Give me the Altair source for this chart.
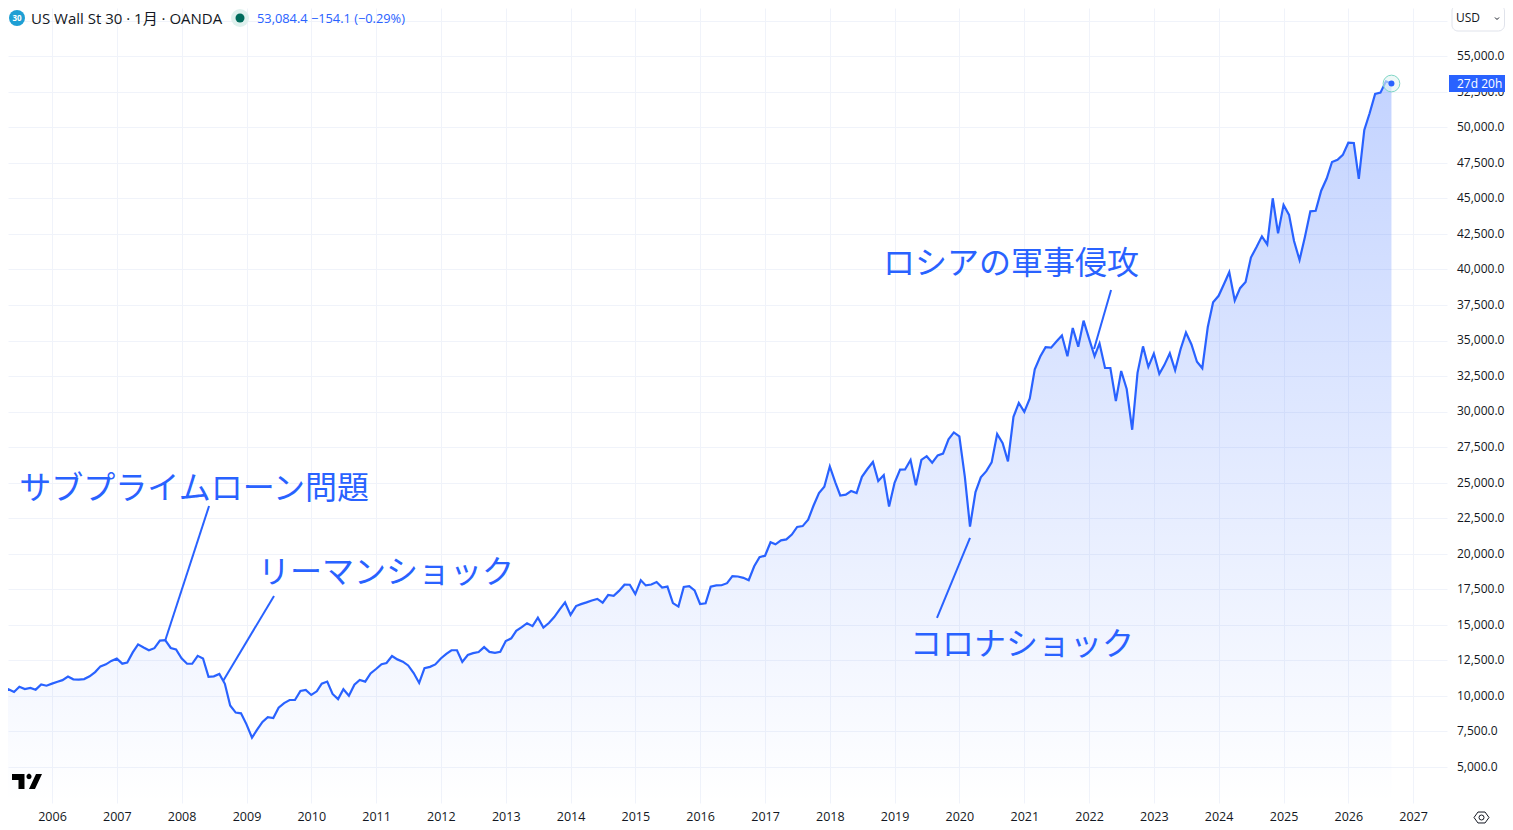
import altair as alt
import pandas as pd

# monthly closes, first bar is 2005-03
close_2005 = [10504, 10193, 10467, 10275, 10641, 10482, 10569, 10440, 10806, 10718]
close_2006 = [10865, 10993, 11109, 11367, 11168, 11150, 11186, 11381, 11679, 12081, 12222, 12463]
close_2007 = [12622, 12269, 12354, 13063, 13628, 13409, 13212, 13358, 13896, 13930, 13372, 13265]
close_2008 = [12650, 12266, 12263, 12820, 12638, 11350, 11378, 11544, 10851, 9325, 8829, 8776]
close_2009 = [8001, 7063, 7609, 8168, 8500, 8447, 9172, 9496, 9712, 9713, 10344, 10428]
close_2010 = [10067, 10325, 10857, 11009, 10137, 9774, 10466, 10015, 10788, 11118, 11006, 11578]
close_2011 = [11892, 12226, 12320, 12811, 12570, 12414, 12143, 11614, 10913, 11955, 12046, 12218]
close_2012 = [12633, 12952, 13212, 13214, 12393, 12880, 13009, 13091, 13437, 13096, 13026, 13104]
close_2013 = [13861, 14054, 14579, 14840, 15116, 14910, 15500, 14810, 15130, 15546, 16086, 16577]
close_2014 = [15699, 16322, 16458, 16581, 16717, 16827, 16563, 17098, 17043, 17391, 17828, 17823]
close_2015 = [17165, 18133, 17776, 17841, 18011, 17620, 17690, 16528, 16285, 17664, 17720, 17425]
close_2016 = [16466, 16517, 17685, 17774, 17787, 17930, 18432, 18401, 18308, 18142, 19124, 19763]
close_2017 = [19864, 20812, 20663, 20941, 21009, 21350, 21891, 21948, 22405, 23377, 24272, 24719]
close_2018 = [26149, 25029, 24103, 24163, 24416, 24271, 25415, 25965, 26458, 25116, 25538, 23327]
close_2019 = [24999, 25916, 25929, 26593, 24815, 26600, 26864, 26403, 26917, 27046, 28051, 28538]
close_2020 = [28256, 25409, 21917, 24346, 25383, 25813, 26428, 28430, 27782, 26502, 29639, 30606]
close_2021 = [29983, 30932, 32982, 33875, 34529, 34503, 34935, 35361, 33900, 35880, 34570, 36400]
close_2022 = [35132, 33900, 34800, 33070, 33070, 30750, 32860, 31590, 28725, 32733, 34590, 33147]
close_2023 = [34086, 32657, 33274, 34098, 32908, 34408, 35560, 34722, 33508, 33053, 35951, 37690]
close_2024 = [38150, 38996, 39807, 37815, 38686, 39119, 40843, 41563, 42330, 41763, 45010, 42544]
close_2025 = [44545, 43841, 42001, 40669, 42270, 44095, 44131, 45545, 46398, 47563, 47716, 48063]
close_2026 = [48920, 48900, 46370, 49815, 50990, 52350, 52440, 53238.5, 53084.4]

closes = (close_2005 + close_2006 + close_2007 + close_2008 + close_2009 + close_2010
          + close_2011 + close_2012 + close_2013 + close_2014 + close_2015 + close_2016
          + close_2017 + close_2018 + close_2019 + close_2020 + close_2021 + close_2022
          + close_2023 + close_2024 + close_2025 + close_2026)
months = pd.date_range("2005-03-01", periods=len(closes), freq="MS").strftime("%Y-%m-%d").tolist()

price_ticks = list(range(5000, 60000, 2500))

note_texts = ["サブプライムローン問題", "リーマンショック", "コロナショック", "ロシアの軍事侵攻"]
note_dates = ["2005-07-01", "2009-03-07", "2019-03-29", "2018-10-28"]
note_prices = [24558, 18648, 13583, 40387]

# leader lines, one pair of dates and prices per note
line_from_dates = ["2008-06-04", "2009-06-05", "2020-03-01", "2022-05-05"]
line_from_prices = [23362, 17030, 21111, 38558]
line_to_dates = ["2007-09-30", "2008-08-22", "2019-08-28", "2022-01-29"]
line_to_prices = [13864, 11050, 15483, 34408]

BLUE = "#2962ff"
INK = "#131722"
GRID = "#f0f3fa"
FONT = "'Open Sans', 'Noto Sans CJK JP'"
LOW, HIGH = 2467, 58397

df = pd.DataFrame({"date": months, "close": closes})
one = pd.DataFrame({"a": [0]})

x_axis = alt.Axis(title=None, format="%Y", tickCount={"interval": "year", "step": 1},
                  labelFont=FONT, labelFontSize=12.5, labelColor=INK, labelPadding=7,
                  labelFlush=False, labelOverlap=False, domain=False, ticks=False,
                  grid=True, gridColor=GRID, gridWidth=1)
y_axis = alt.Axis(title=None, orient="right", values=price_ticks,
                  labelExpr="datum.value > 55000 ? '' : format(datum.value, ',.1f')",
                  labelFont=FONT, labelFontSize=12, labelColor=INK, labelAlign="left",
                  labelPadding=9.5, labelOffset=-0.7, labelFlush=False, labelOverlap=False,
                  domain=False, ticks=False, grid=True, gridColor=GRID, gridWidth=1)
x_scale = alt.Scale(type="utc", domain=[alt.DateTime(year=2005, month=4, date=28, utc=True),
                                        alt.DateTime(year=2027, month=7, date=11, utc=True)])
y_scale = alt.Scale(domain=[LOW, HIGH], zero=False)
x_enc = alt.X("date:T", axis=x_axis, scale=x_scale)
y_enc = alt.Y("close:Q", axis=y_axis, scale=y_scale)

gradient = alt.Gradient(
    gradient="linear", x1=0, y1=0, x2=0, y2=1,
    stops=[alt.GradientStop(color="rgba(41,98,255,0.28)", offset=0),
           alt.GradientStop(color="rgba(41,98,255,0)", offset=1)],
)
area = alt.Chart(df).mark_area(color=gradient, clip=True).encode(x=x_enc, y=y_enc, y2=alt.datum(LOW))
line = alt.Chart(df).mark_line(color=BLUE, strokeWidth=2.2, clip=True).encode(x=x_enc, y=y_enc)

last = df.tail(1)
ring = alt.Chart(last).mark_point(filled=True, size=279, fill="#e3f4f1", fillOpacity=0.6,
                                  stroke="#7fd6c6", strokeWidth=1, opacity=1).encode(x=x_enc, y=y_enc)
dot = alt.Chart(last).mark_point(filled=True, size=36, color=BLUE, opacity=1).encode(x=x_enc, y=y_enc)

leaders = alt.Chart(pd.DataFrame({
    "d1": line_from_dates, "p1": line_from_prices, "d2": line_to_dates, "p2": line_to_prices,
})).mark_rule(color=BLUE, strokeWidth=2).encode(
    x=alt.X("d1:T", axis=x_axis, scale=x_scale), x2="d2:T",
    y=alt.Y("p1:Q", axis=y_axis, scale=y_scale), y2="p2:Q",
)
notes = alt.Chart(pd.DataFrame({"date": note_dates, "price": note_prices, "text": note_texts})).mark_text(
    align="left", baseline="middle", font="'Noto Sans CJK JP'", fontSize=32, fontWeight=400, color=BLUE,
).encode(x=alt.X("date:T", axis=x_axis, scale=x_scale),
         y=alt.Y("price:Q", axis=y_axis, scale=y_scale), text="text:N")


# page furniture, x and y are page pixels minus the 8px margin
def label(text, x, y, color=INK, size=14, **kw):
    return alt.Chart(pd.DataFrame({"t": [text]})).mark_text(
        align=kw.pop("align", "left"), baseline="middle", font=FONT, fontSize=size, color=color, **kw
    ).encode(x=alt.value(x - 8), y=alt.value(y - 8), text="t:N")


def shape(x, y, **kw):
    return alt.Chart(one).mark_point(opacity=1, **kw).encode(x=alt.value(x - 8), y=alt.value(y - 8))


def box(x1, x2, y1, y2, **kw):
    return alt.Chart(one).mark_rect(**kw).encode(
        x=alt.value(x1 - 8), x2=alt.value(x2 - 8), y=alt.value(y1 - 8), y2=alt.value(y2 - 8))


LOGO = ("M -1 -0.5 L -0.167 -0.5 L -0.167 0.5 L -0.567 0.5 L -0.567 -0.1 L -1 -0.1 Z "
        "M 0.6 -0.5 L 1 -0.5 L 0.533 0.5 L 0.133 0.5 Z "
        "M -0.033 -0.333 a 0.167 0.167 0 1 0 0.333 0 a 0.167 0.167 0 1 0 -0.333 0 Z")
HEX = "M -1 0 L -0.47 -0.73 L 0.47 -0.73 L 1 0 L 0.47 0.73 L -0.47 0.73 Z"
CHEVRON = "M -1 -0.5 L 0 0.5 L 1 -0.5"

furniture = [
    shape(17, 18, filled=True, size=256, color="#1e9fd4"),
    label("30", 17, 18.5, color="white", size=8, align="center", fontWeight="bold"),
    label("US Wall St 30 · 1月 · OANDA", 31, 18.5, size=15),
    shape(240, 18, filled=True, size=324, color="#dff1ee"),
    shape(240, 18, filled=True, size=81, color="#006b5c"),
    label("53,084.4 −154.1 (−0.29%)", 257, 18.5, color=BLUE, size=12.8),
    box(1452, 1504.5, 5, 31, fill="white", stroke="#e0e3eb", strokeWidth=1, cornerRadius=6),
    label("USD", 1456, 18, size=12),
    shape(1497, 18.5, shape=CHEVRON, size=16, filled=False, color=INK, strokeWidth=1),
    box(1449, 1505, 75, 92, fill=BLUE),
    label("27d 20h", 1457, 84, color="white", size=12),
    shape(27, 781.5, shape=LOGO, size=900, filled=True, color="#000000"),
    shape(1481.5, 817.5, shape=HEX, size=225, filled=False, color=INK, strokeWidth=1),
    shape(1481.5, 817.5, size=25, filled=False, color=INK, strokeWidth=1),
]

chart = alt.layer(area, line, leaders, notes, ring, dot, *furniture).properties(
    width=1439,
    height=795,
    padding={"left": 0, "top": 0, "right": 58, "bottom": 24},
    autosize=alt.AutoSizeParams(type="none"),
    background="white",
).configure_view(stroke=None)

chart.save("out.html", embed_options={"renderer": "svg", "actions": False})
